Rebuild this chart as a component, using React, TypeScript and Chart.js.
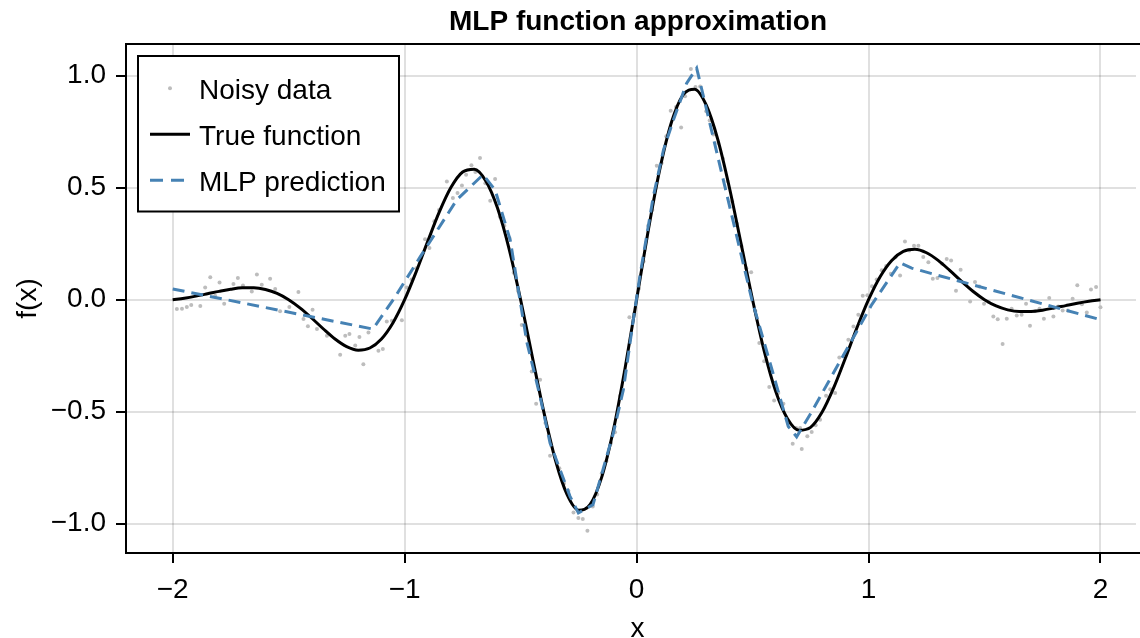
import React, { useEffect, useRef } from 'react';
import { Chart, registerables } from 'chart.js';

Chart.register(...registerables);

const chartTitle = 'MLP function approximation';
const xAxisLabel = 'x';
const yAxisLabel = 'f(x)';
const legendLabels = ['Noisy data', 'True function', 'MLP prediction'];

const xTickValues = [-2, -1, 0, 1, 2];
const yTickValues = [-1, -0.5, 0, 0.5, 1];

const trueX = [
  -2, -1.95, -1.9, -1.85, -1.8, -1.75, -1.7, -1.65, -1.6, -1.55, -1.5, -1.45, -1.4, -1.35, -1.3, -1.25, -1.2,
  -1.15, -1.1, -1.05, -1, -0.95, -0.9, -0.85, -0.8, -0.75, -0.7, -0.65, -0.6, -0.55, -0.5, -0.45, -0.4, -0.35,
  -0.3, -0.25, -0.2, -0.15, -0.1, -0.05, 0, 0.05, 0.1, 0.15, 0.2, 0.25, 0.3, 0.35, 0.4, 0.45, 0.5, 0.55, 0.6,
  0.65, 0.7, 0.75, 0.8, 0.85, 0.9, 0.95, 1, 1.05, 1.1, 1.15, 1.2, 1.25, 1.3, 1.35, 1.4, 1.45, 1.5, 1.55, 1.6,
  1.65, 1.7, 1.75, 1.8, 1.85, 1.9, 1.95, 2,
];
const trueY = [
  0, 0.0069, 0.0159, 0.0264, 0.0372, 0.0468, 0.0529, 0.0532, 0.0454, 0.028, 0, -0.0377, -0.0828, -0.1308,
  -0.1755, -0.2096, -0.2253, -0.2156, -0.1753, -0.1026, 0, 0.1253, 0.2615, 0.3928, 0.5015, 0.5698, 0.5826,
  0.5302, 0.4101, 0.2284, 0, -0.2524, -0.5009, -0.7157, -0.8692, -0.9394, -0.9138, -0.791, -0.5819, -0.3083,
  0, 0.3083, 0.5819, 0.791, 0.9138, 0.9394, 0.8692, 0.7157, 0.5009, 0.2524, 0, -0.2284, -0.4101, -0.5302,
  -0.5826, -0.5698, -0.5015, -0.3928, -0.2615, -0.1253, 0, 0.1026, 0.1753, 0.2156, 0.2253, 0.2096, 0.1755,
  0.1308, 0.0828, 0.0377, 0, -0.028, -0.0454, -0.0532, -0.0529, -0.0468, -0.0372, -0.0264, -0.0159, -0.0069, 0,
];

const mlpX = [
  -2, -1.137, -1.049, -0.933, -0.775, -0.662, -0.61, -0.545, -0.473, -0.416, -0.373, -0.33, -0.287, -0.251,
  -0.188, -0.145, -0.102, -0.057, -0.014, 0.015, 0.072, 0.116, 0.159, 0.216, 0.259, 0.497, 0.654, 0.69, 0.748,
  1.014, 1.136, 1.186, 2,
];
const mlpY = [
  0.048, -0.131, 0, 0.191, 0.446, 0.558, 0.49, 0.267, -0.19, -0.432, -0.64, -0.759, -0.878, -0.952, -0.915,
  -0.759, -0.603, -0.402, -0.089, 0.11, 0.46, 0.669, 0.803, 0.967, 1.034, 0, -0.566, -0.612, -0.513, -0.022,
  0.165, 0.141, -0.089,
];

const noisyX = [
  -1.982, -1.96, -1.939, -1.92, -1.881, -1.86, -1.838, -1.817, -1.798, -1.778, -1.738, -1.719, -1.697, -1.659,
  -1.637, -1.616, -1.58, -1.558, -1.537, -1.497, -1.458, -1.436, -1.417, -1.397, -1.378, -1.335, -1.278, -1.256,
  -1.238, -1.213, -1.195, -1.178, -1.156, -1.113, -1.094, -1.077, -1.055, -1.012, -0.991, -0.97, -0.95, -0.912,
  -0.893, -0.872, -0.852, -0.818, -0.792, -0.772, -0.753, -0.735, -0.712, -0.695, -0.675, -0.652, -0.631, -0.61,
  -0.59, -0.57, -0.548, -0.53, -0.512, -0.495, -0.474, -0.452, -0.433, -0.416, -0.393, -0.373, -0.352, -0.333,
  -0.313, -0.294, -0.272, -0.251, -0.232, -0.212, -0.189, -0.17, -0.15, -0.13, -0.11, -0.093, -0.072, -0.051,
  -0.031, -0.01, 0.01, 0.03, 0.05, 0.068, 0.087, 0.108, 0.128, 0.147, 0.17, 0.192, 0.209, 0.234, 0.254, 0.274,
  0.3, 0.315, 0.331, 0.352, 0.372, 0.392, 0.412, 0.432, 0.452, 0.473, 0.494, 0.512, 0.529, 0.55, 0.572, 0.593,
  0.611, 0.633, 0.653, 0.673, 0.688, 0.705, 0.712, 0.736, 0.755, 0.772, 0.791, 0.817, 0.835, 0.856, 0.874, 0.895,
  0.913, 0.935, 0.956, 0.975, 0.995, 1.015, 1.035, 1.057, 1.076, 1.096, 1.116, 1.136, 1.157, 1.176, 1.196, 1.215,
  1.236, 1.258, 1.277, 1.297, 1.317, 1.337, 1.356, 1.377, 1.397, 1.418, 1.438, 1.459, 1.478, 1.498, 1.518, 1.538,
  1.557, 1.578, 1.596, 1.617, 1.639, 1.66, 1.679, 1.696, 1.718, 1.737, 1.756, 1.779, 1.797, 1.818, 1.837, 1.859,
  1.88, 1.9, 1.92, 1.941, 1.959, 1.981, 2.0,
];
const noisyY = [
  -0.042, -0.04, -0.033, -0.024, -0.028, 0.055, 0.1, 0.018, 0.077, -0.018, 0.07, 0.097, 0.063, 0.037, 0.112,
  0.067, 0.094, 0.048, -0.052, -0.033, 0.034, -0.086, -0.119, -0.045, -0.131, -0.161, -0.246, -0.161, -0.153,
  -0.205, -0.167, -0.288, -0.146, -0.228, -0.22, -0.097, -0.094, -0.092, 0.055, 0.09, 0.14, 0.27, 0.231, 0.35,
  0.4, 0.528, 0.454, 0.476, 0.51, 0.558, 0.6, 0.57, 0.633, 0.52, 0.442, 0.539, 0.37, 0.33, 0.275, 0.12, 0.04,
  -0.113, -0.16, -0.32, -0.464, -0.357, -0.55, -0.697, -0.7, -0.752, -0.82, -0.853, -0.95, -0.975, -0.979, -1.031,
  -0.923, -0.87, -0.775, -0.72, -0.64, -0.592, -0.43, -0.32, -0.078, -0.06, 0.05, 0.17, 0.33, 0.4, 0.598, 0.61,
  0.73, 0.844, 0.86, 0.769, 0.908, 1.03, 0.95, 0.952, 0.841, 0.8, 0.737, 0.7, 0.63, 0.53, 0.44, 0.34, 0.24, 0.14,
  0.122, -0.05, -0.193, -0.275, -0.39, -0.45, -0.417, -0.465, -0.55, -0.643, -0.573, -0.573, -0.667, -0.61,
  -0.591, -0.56, -0.536, -0.429, -0.4, -0.417, -0.258, -0.25, -0.179, -0.12, -0.067, 0.018, 0.02, 0.06, 0.09,
  0.131, 0.15, 0.116, 0.19, 0.108, 0.26, 0.22, 0.241, 0.241, 0.191, 0.167, 0.094, 0.097, 0.16, 0.182, 0.175,
  0.04, 0.134, 0.07, -0.008, 0.079, 0.059, -0.018, -0.01, -0.075, -0.087, -0.198, -0.085, -0.04, -0.07, -0.067,
  -0.018, -0.116, -0.05, -0.04, -0.085, 0.008, -0.075, -0.03, -0.048, -0.048, 0.004, 0.064, -0.02, -0.057, 0.045,
  0.057, -0.034,
];

const FONT = "'Liberation Sans', Arial, Helvetica, sans-serif";
const BLUE = '#4682B4';
const GREY = '#bdbdbd';
const GRID = 'rgba(0,0,0,0.12)';

function fmt(v: number, d: number): string {
  const s = Math.abs(v).toFixed(d);
  return v < 0 ? '\u2212' + s : s;
}

const decorPlugin = {
  id: 'decor',
  afterDatasetsDraw(chart: any) {
    const { ctx, chartArea } = chart;
    const { left, top, bottom } = chartArea;
    const W = chart.width;
    ctx.save();
    // spines (the right spine lies outside the visible figure)
    ctx.strokeStyle = '#000';
    ctx.lineWidth = 2;
    ctx.setLineDash([]);
    ctx.beginPath();
    ctx.moveTo(left - 1, top);
    ctx.lineTo(W + 2, top);
    ctx.moveTo(left, top - 1);
    ctx.lineTo(left, bottom + 1);
    ctx.moveTo(left - 1, bottom);
    ctx.lineTo(W + 2, bottom);
    ctx.stroke();

    // legend box
    const lx = 138, ly = 56, lw = 261, lh = 155.5;
    ctx.fillStyle = '#fff';
    ctx.fillRect(lx, ly, lw, lh);
    ctx.strokeStyle = '#000';
    ctx.lineWidth = 2;
    ctx.strokeRect(lx, ly, lw, lh);

    const rows = [88.3, 134.3, 180.3];
    ctx.fillStyle = GREY;
    ctx.beginPath();
    ctx.arc(170, rows[0], 2, 0, Math.PI * 2);
    ctx.fill();

    ctx.lineWidth = 3;
    ctx.strokeStyle = '#000';
    ctx.beginPath();
    ctx.moveTo(150, rows[1]);
    ctx.lineTo(190, rows[1]);
    ctx.stroke();

    ctx.strokeStyle = BLUE;
    ctx.setLineDash([13, 8]);
    ctx.beginPath();
    ctx.moveTo(150, rows[2]);
    ctx.lineTo(186, rows[2]);
    ctx.stroke();
    ctx.setLineDash([]);

    ctx.fillStyle = '#000';
    ctx.font = `28px ${FONT}`;
    ctx.textAlign = 'left';
    ctx.textBaseline = 'alphabetic';
    legendLabels.forEach((t, i) => {
      ctx.fillText(t, 199, rows[i] + 10.2);
    });

    // x axis label, centred on the full (cropped) axis
    ctx.textAlign = 'center';
    ctx.fillText(xAxisLabel, 637.5, 636.5);

    // title
    ctx.font = `bold 28px ${FONT}`;
    ctx.fillText(chartTitle, 638, 30);
    ctx.restore();
  },
};

export default function App() {
  const ref = useRef<HTMLCanvasElement | null>(null);

  useEffect(() => {
    if (!ref.current) return;
    const chart = new Chart(ref.current, {
      type: 'scatter',
      data: {
        datasets: [
          {
            label: legendLabels[2],
            type: 'line',
            data: mlpX.map((x, i) => ({ x, y: mlpY[i] })),
            borderColor: BLUE,
            borderWidth: 3,
            borderDash: [12, 7],
            pointRadius: 0,
            tension: 0,
            fill: false,
            order: 0,
          } as any,
          {
            label: legendLabels[1],
            type: 'line',
            data: trueX.map((x, i) => ({ x, y: trueY[i] })),
            borderColor: '#000',
            borderWidth: 3,
            pointRadius: 0,
            cubicInterpolationMode: 'monotone',
            fill: false,
            order: 1,
          } as any,
          {
            label: legendLabels[0],
            data: noisyX.map((x, i) => ({ x, y: noisyY[i] })),
            backgroundColor: GREY,
            borderWidth: 0,
            pointRadius: 2,
            order: 2,
          },
        ],
      },
      options: {
        responsive: false,
        animation: false,
        devicePixelRatio: 1,
        events: [],
        layout: { padding: { top: 44, left: 0, right: 0, bottom: 0 } },
        plugins: {
          legend: { display: false },
          title: { display: false },
          tooltip: { enabled: false },
        },
        scales: {
          x: {
            type: 'linear',
            min: -2.2013,
            max: 2.1531,
            afterFit: (s: any) => {
              s.height = 85;
            },
            afterBuildTicks: (s: any) => {
              s.ticks = xTickValues.map((v) => ({ value: v }));
            },
            ticks: {
              font: { family: FONT, size: 28 },
              color: '#000',
              padding: 10,
              maxRotation: 0,
              autoSkip: false,
              callback: (v: any) => fmt(Number(v), 0),
            },
            grid: { color: GRID, lineWidth: 2, tickColor: '#000', tickWidth: 2, tickLength: 10 },
            border: { display: false },
            title: { display: false },
          },
          y: {
            type: 'linear',
            min: -1.1308,
            max: 1.1415,
            afterFit: (s: any) => {
              s.width = 126;
            },
            afterBuildTicks: (s: any) => {
              s.ticks = yTickValues.map((v) => ({ value: v }));
            },
            ticks: {
              font: { family: FONT, size: 28 },
              color: '#000',
              padding: 10,
              autoSkip: false,
              callback: (v: any) => fmt(Number(v), 1),
            },
            grid: { color: GRID, lineWidth: 2, tickColor: '#000', tickWidth: 2, tickLength: 10 },
            border: { display: false },
            title: {
              display: true,
              text: yAxisLabel,
              color: '#000',
              font: { family: FONT, size: 28, lineHeight: 1 },
              padding: { top: 14, bottom: 0 },
            },
          },
        },
      } as any,
      plugins: [decorPlugin],
    });
    return () => chart.destroy();
  }, []);

  return (
    <div style={{ position: 'absolute', left: 0, top: 0, width: 1140, height: 638, overflow: 'hidden', background: '#fff' }}>
      <canvas ref={ref} width={1140} height={638} style={{ display: 'block', width: 1140, height: 638 }} />
    </div>
  );
}
